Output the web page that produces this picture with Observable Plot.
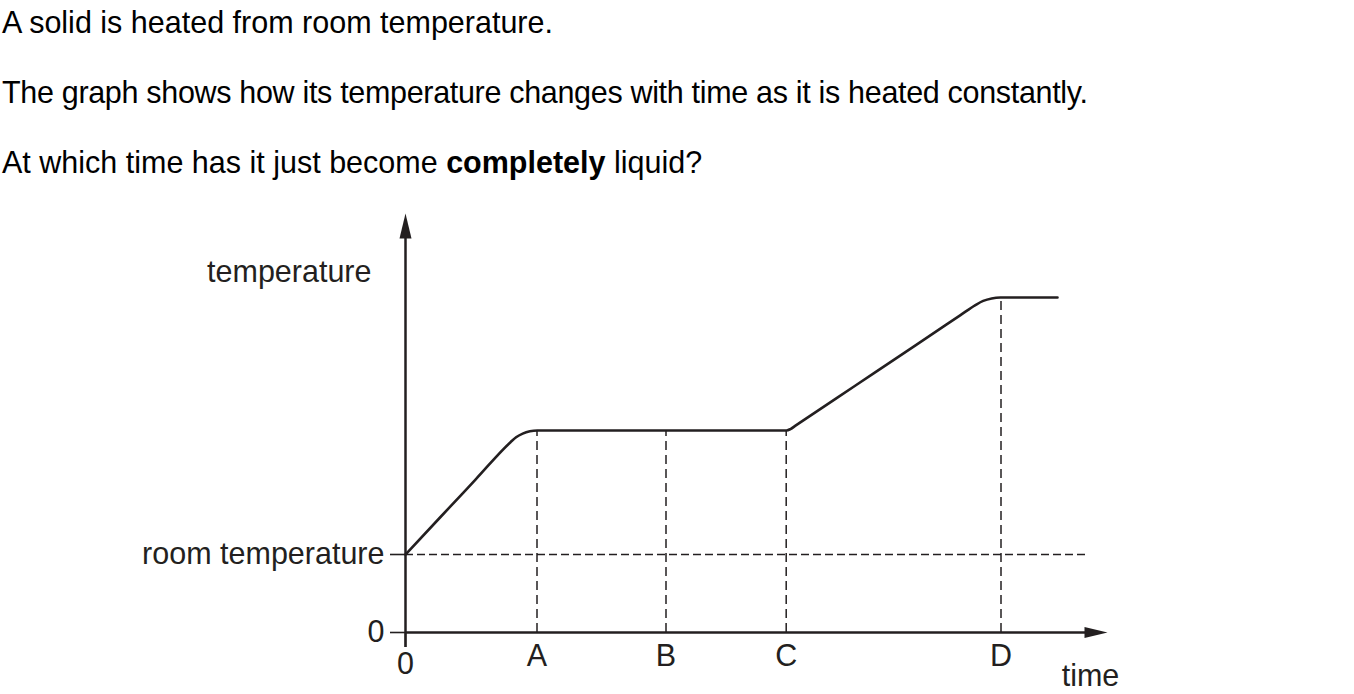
<!DOCTYPE html>
<html>
<head>
<meta charset="utf-8">
<script src="https://cdn.jsdelivr.net/npm/d3@7"></script>
<script src="https://cdn.jsdelivr.net/npm/@observablehq/plot@0.6"></script>
<style>
  html, body { margin: 0; padding: 0; background: #fff; }
  body { width: 1354px; height: 694px; position: relative; overflow: hidden;
         font-family: "Liberation Sans", Arial, Helvetica, sans-serif; color: #000; }
  .q { position: absolute; left: 2px; font-size: 30.5px; line-height: 30px; white-space: nowrap; }
  #chart { position: absolute; left: 0; top: 0; }
  #chart svg { overflow: visible; }
</style>
</head>
<body>
<div class="q" style="top:7.3px">A solid is heated from room temperature.</div>
<div class="q" style="top:77.3px; letter-spacing:-0.32px">The graph shows how its temperature changes with time as it is heated constantly.</div>
<div class="q" style="top:147.3px">At which time has it just become <b>completely</b> liquid?</div>
<div id="chart"></div>
<script>
// ---- data (arbitrary units) ----
const timeValues = [0, 3.5, 7.0, 10.5, 11.06, 11.72, 12.44, 13.19, 38.1, 38.5, 39.0, 45.0, 51.0, 55.5, 56.99, 57.77, 58.62, 59.5, 65.2];
const tempValues = [7.8, 11.55, 15.29, 19.03, 19.53, 19.89, 20.12, 20.2, 20.2, 20.34, 20.68, 24.70, 28.72, 31.74, 32.74, 33.16, 33.41, 33.5, 33.5];
const markerLabels = ["A", "B", "C", "D"];
const markerTimes = [13.15, 26.05, 38.07, 59.55];
const markerTemps = [20.2, 20.2, 20.2, 33.5];
const roomTemp = 7.8;
const yTickValues = [0, roomTemp];
const yTickLabels = ["0", "room temperature"];
const xOriginTicks = [0];
const axisLabels = { y: "temperature", x: "time" };
const timeMax = 70.2, tempMax = 41.9, roomLineEnd = 68.0;

const curve = timeValues.map((t, i) => ({ t, T: tempValues[i] }));
const markers = markerLabels.map((m, i) => ({ m, t: markerTimes[i], T: markerTemps[i] }));

const ink = "#231f20";
const font = "'Liberation Sans', Arial, Helvetica, sans-serif";
const fs = 30.5;

const yArrow = { draw(ctx) { ctx.moveTo(0, 0); ctx.lineTo(6, 25); ctx.lineTo(-6, 25); ctx.closePath(); } };
const xArrow = { draw(ctx) { ctx.moveTo(0, 0); ctx.lineTo(-23, -5.5); ctx.lineTo(-23, 5.5); ctx.closePath(); } };

const chart = Plot.plot({
  width: 1354,
  height: 694,
  marginLeft: 405,
  marginRight: 247,
  marginTop: 213,
  marginBottom: 62,
  style: { fontFamily: font, fontSize: fs + "px", color: ink, background: "transparent" },
  x: { domain: [0, timeMax] },
  y: { domain: [0, tempMax] },
  marks: [
    Plot.ruleY([roomTemp], { x1: 0, x2: roomLineEnd, stroke: ink, strokeWidth: 1.5, strokeDasharray: "8,4" }),
    Plot.ruleX(markers, { x: "t", y1: 0, y2: "T", stroke: ink, strokeWidth: 1.5, strokeDasharray: "9,5" }),
    Plot.ruleX(xOriginTicks, { y1: -1.5, y2: tempMax - 1, stroke: ink, strokeWidth: 2.5 }),
    Plot.ruleY([0], { x1: 0, x2: timeMax - 1, stroke: ink, strokeWidth: 2.5 }),
    Plot.dot([[0, tempMax]], { x: d => d[0], y: d => d[1], symbol: yArrow, fill: ink, stroke: "none", r: 5 }),
    Plot.dot([[timeMax, 0]], { x: d => d[0], y: d => d[1], symbol: xArrow, fill: ink, stroke: "none", r: 5 }),
    Plot.axisY(yTickValues, {
      tickSize: 15, tickPadding: 6, strokeWidth: 1.6, stroke: ink, fill: ink,
      tickFormat: d => yTickLabels[yTickValues.indexOf(d)],
      fontSize: fs, label: null
    }),
    Plot.axisX(xOriginTicks, {
      tickSize: 15, tickPadding: 4.5, strokeWidth: 1.6, stroke: ink, fill: ink,
      tickFormat: d => String(d), fontSize: fs, label: null
    }),
    Plot.axisX(markerTimes, {
      tickSize: 0, tickPadding: 11.5, fill: ink,
      tickFormat: d => markerLabels[markerTimes.indexOf(d)], fontSize: fs, label: null
    }),
    Plot.text([axisLabels.y], { x: 0, y: 36.0, dx: -34, text: d => d, textAnchor: "end", fontSize: fs, fill: ink }),
    Plot.text([axisLabels.x], { x: 68.5, y: -4.35, text: d => d, textAnchor: "middle", fontSize: fs, fill: ink }),
    Plot.line(curve, { x: "t", y: "T", curve: "monotone-x", stroke: ink, strokeWidth: 2.6, strokeLinejoin: "round" })
  ]
});
document.getElementById("chart").appendChild(chart);
</script>
</body>
</html>
